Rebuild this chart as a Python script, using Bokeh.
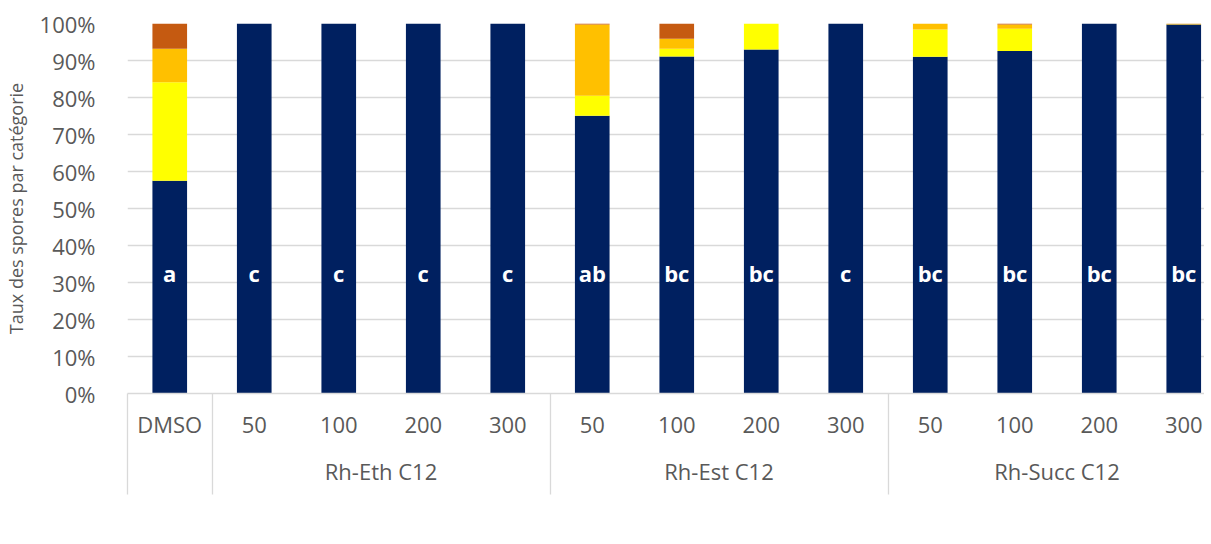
from bokeh.plotting import figure
from bokeh.models import Range1d, FixedTicker, LinearAxis, Legend, LegendItem, ColumnDataSource
from bokeh.core.properties import value
from bokeh.embed import file_html
from bokeh.resources import INLINE

categories = ["DMSO", "50", "100", "200", "300", "50", "100", "200", "300", "50", "100", "200", "300"]
groups = ["Rh-Eth C12", "Rh-Est C12", "Rh-Succ C12"]
group_sizes = [4, 4, 4]
non_germees = [57.5, 100, 100, 100, 100, 75.1, 91.1, 93.0, 100, 91.0, 92.6, 100, 99.7]
petit_tga = [26.6, 0, 0, 0, 0, 5.4, 2.1, 7.0, 0, 7.4, 6.0, 0, 0]
grand_tga = [9.1, 0, 0, 0, 0, 19.2, 2.7, 0, 0, 1.6, 1.1, 0, 0.2]
plusieurs_tga = [6.8, 0, 0, 0, 0, 0.3, 4.1, 0, 0, 0, 0.3, 0, 0.1]
letters = ["a", "c", "c", "c", "c", "ab", "bc", "bc", "c", "bc", "bc", "bc", "bc"]
series_names = ["Non germées + TGA avortés", "1 Petit TGA", "1 Grand TGA", "Plusieurs TGA"]
colors = ["#002060", "#FFFF00", "#FFC000", "#C55A11"]
y_ticks = [0, 10, 20, 30, 40, 50, 60, 70, 80, 90, 100]

FONT = "Open Sans"
TXT = "#595959"
GRID = "#d9d9d9"

x = list(range(len(categories)))
src = ColumnDataSource(dict(x=x, letters=letters,
                            **{series_names[0]: non_germees, series_names[1]: petit_tga,
                               series_names[2]: grand_tga, series_names[3]: plusieurs_tga}))

cat_w = 84.5
frame_w = 1077
p = figure(frame_width=frame_w, frame_height=370, output_backend="svg", toolbar_location=None,
           x_axis_type=None, x_range=Range1d(-0.5, -0.5 + frame_w / cat_w), y_range=Range1d(0, 100),
           min_border_left=118, min_border_right=0, min_border_top=23, min_border_bottom=0)
p.outline_line_color = None
p.xgrid.visible = False
p.ygrid.ticker = FixedTicker(ticks=y_ticks)
p.ygrid.grid_line_color = GRID
p.ygrid.grid_line_width = 1.3

renderers = p.vbar_stack(series_names, x="x", width=0.41, color=colors, line_width=0, source=src)

p.text(x="x", y=32.5, text="letters", source=src, text_color="white", text_font=value(FONT),
       text_font_style="bold", text_font_size="22px", text_align="center", text_baseline="middle")

# y axis
yax = p.yaxis[0]
yax.ticker = FixedTicker(ticks=y_ticks)
yax.major_label_overrides = {v: f"{v}%" for v in y_ticks}
yax.axis_line_color = None
yax.major_tick_line_color = None
yax.minor_tick_line_color = None
yax.major_label_standoff = 26
yax.major_label_text_font = FONT
yax.major_label_text_font_size = "22px"
yax.major_label_text_color = TXT
yax.axis_label = "Taux des spores par catégorie"
yax.axis_label_text_font = FONT
yax.axis_label_text_font_size = "18px"
yax.axis_label_text_font_style = "normal"
yax.axis_label_text_color = TXT
yax.axis_label_standoff = 9

# separators between groups (long minor ticks of the category axis)
seps = [-0.499]
pos = 0.5
for g in group_sizes:
    seps.append(pos)
    pos += g
seps = [s for s in seps if s < p.x_range.end]

# category axis (labels + axis line + group separators)
sep_len = 101
ax1 = LinearAxis(ticker=FixedTicker(ticks=x, minor_ticks=seps),
                 major_label_overrides={i: c for i, c in zip(x, categories)})
ax1.major_tick_line_color = None
ax1.major_tick_out = 0
ax1.major_tick_in = 0
ax1.minor_tick_in = 0
ax1.minor_tick_out = sep_len
ax1.minor_tick_line_color = GRID
ax1.minor_tick_line_width = 1.3
ax1.axis_line_color = GRID
ax1.axis_line_width = 1.3
ax1.major_label_standoff = 15 - sep_len
ax1.major_label_text_font = FONT
ax1.major_label_text_font_size = "22px"
ax1.major_label_text_color = TXT
p.add_layout(ax1, "below")

# group axis
centers = []
start = 1
for g in group_sizes:
    centers.append(start + (g - 1) / 2)
    start += g
ax2 = LinearAxis(ticker=FixedTicker(ticks=centers, minor_ticks=[]),
                 major_label_overrides={c: g for c, g in zip(centers, groups)})
ax2.major_tick_line_color = None
ax2.minor_tick_line_color = None
ax2.axis_line_color = None
ax2.major_label_standoff = 8
ax2.major_label_text_font = FONT
ax2.major_label_text_font_size = "22px"
ax2.major_label_text_color = TXT
p.add_layout(ax2, "below")

legend = Legend(items=[LegendItem(label=n, renderers=[r]) for n, r in zip(series_names, renderers)],
                orientation="horizontal", location="top_left", border_line_color=None,
                background_fill_alpha=0, label_text_font=FONT, label_text_font_size="22px",
                label_text_color=TXT, glyph_width=14, glyph_height=14, spacing=40,
                label_standoff=6, padding=4, margin=18)
p.add_layout(legend, "below")

open("out.html", "w").write(file_html(p, INLINE))
